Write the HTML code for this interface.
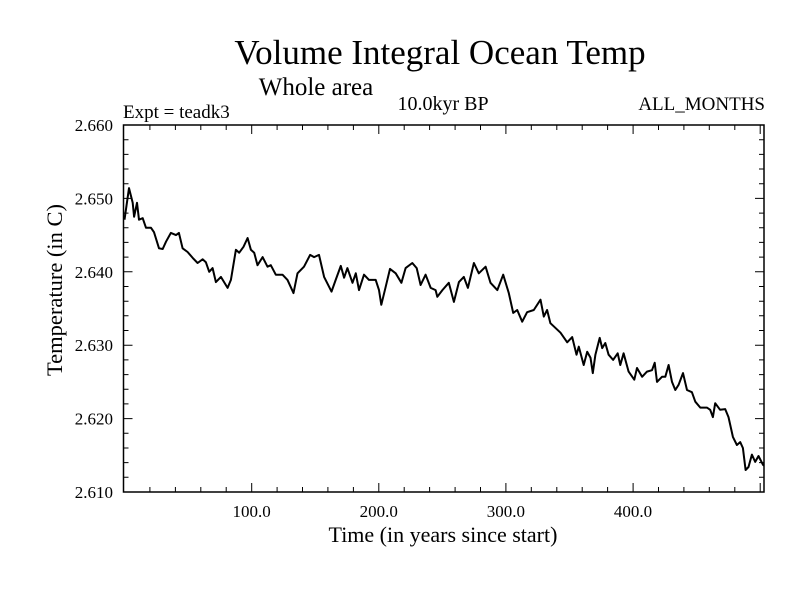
<!DOCTYPE html>
<html><head><meta charset="utf-8"><style>
html,body{margin:0;padding:0;background:#fff;}
svg{display:block;font-family:"Liberation Serif",serif;}
</style></head><body>
<svg id="chart" width="800" height="600" viewBox="0 0 800 600">
<rect width="800" height="600" fill="#fff"/>
<text x="440" y="64" font-size="35" text-anchor="middle">Volume Integral Ocean Temp</text>
<text x="316" y="95" font-size="25" text-anchor="middle">Whole area</text>
<text x="123" y="118" font-size="19">Expt = teadk3</text>
<text x="443" y="110" font-size="20" text-anchor="middle">10.0kyr BP</text>
<text x="765" y="110" font-size="19" text-anchor="end">ALL_MONTHS</text>
<text x="443" y="542" font-size="22" text-anchor="middle">Time (in years since start)</text>
<text transform="translate(62,290) rotate(-90)" font-size="22.5" text-anchor="middle">Temperature (in C)</text>
<g id="axes"></g>
<g id="series"></g>
</svg>
<script>
const years=[0,3.5,6.4,7.5,9.8,11.4,14.3,16.9,20.8,23.2,27.1,30.0,32.6,36.5,40.5,42.8,45.7,49.6,53.6,57.5,61.4,64.0,66.6,69.3,71.9,75.8,81.1,83.7,87.6,90.2,93.6,96.8,99.4,102.0,104.6,108.6,112.5,115.1,119.0,124.3,128.2,132.9,136.1,141.2,146.0,149.1,153.0,157.0,162.8,166.1,170.1,172.7,175.3,179.3,181.9,184.4,188.4,192.3,197.6,200.2,202.0,205.4,208.8,213.3,217.8,221.1,226.4,229.8,232.9,236.8,240.8,244.7,246.0,250.0,255.1,259.1,263.0,266.9,270.1,274.8,278.7,284.0,287.9,293.2,297.9,302.3,305.7,308.9,312.8,316.7,321.9,327.2,329.8,332.4,335.0,342.9,348.2,352.1,355.5,357.3,361.2,363.9,366.5,368.3,370.4,373.8,375.7,378.2,380.8,384.3,387.9,390.0,392.6,396.5,401.0,403.1,407.1,411.0,414.9,417.0,418.8,422.8,425.4,428.0,430.6,433.2,435.8,439.3,442.4,446.3,449.0,452.9,458.1,460.7,462.8,464.6,468.5,472.5,475.1,478.5,481.7,484.3,486.4,488.5,490.8,493.5,496.1,498.7,502.2,503];
const temps=[2.6471,2.6514,2.6494,2.6475,2.6494,2.6471,2.6473,2.6460,2.6460,2.6454,2.6432,2.6431,2.6441,2.6453,2.6450,2.6453,2.6432,2.6427,2.6419,2.6412,2.6417,2.6413,2.6400,2.6405,2.6386,2.6393,2.6378,2.6389,2.6430,2.6426,2.6434,2.6446,2.6430,2.6426,2.6409,2.6420,2.6407,2.6409,2.6396,2.6396,2.6389,2.6371,2.6398,2.6407,2.6423,2.6420,2.6423,2.6393,2.6373,2.6389,2.6408,2.6392,2.6405,2.6385,2.6398,2.6375,2.6396,2.6389,2.6389,2.6375,2.6355,2.6379,2.6404,2.6398,2.6385,2.6405,2.6412,2.6405,2.6382,2.6396,2.6378,2.6375,2.6366,2.6375,2.6385,2.6359,2.6386,2.6393,2.6378,2.6412,2.6398,2.6407,2.6385,2.6375,2.6396,2.6371,2.6344,2.6348,2.6332,2.6345,2.6348,2.6362,2.6339,2.6348,2.6330,2.6317,2.6304,2.6311,2.6287,2.6298,2.6273,2.6291,2.6283,2.6262,2.6287,2.6310,2.6296,2.6303,2.6287,2.6280,2.6289,2.6273,2.6289,2.6264,2.6253,2.6269,2.6257,2.6264,2.6266,2.6276,2.6250,2.6257,2.6257,2.6273,2.6250,2.6239,2.6246,2.6262,2.6239,2.6236,2.6223,2.6215,2.6215,2.6212,2.6202,2.6221,2.6212,2.6213,2.6202,2.6175,2.6164,2.6168,2.6160,2.6130,2.6134,2.6151,2.6141,2.6149,2.6137,2.6136];
const xTickValues=[100,200,300,400];
const xTickLabels=["100.0","200.0","300.0","400.0"];
const yTickValues=[2.610,2.620,2.630,2.640,2.650,2.660];
const yTickLabels=["2.610","2.620","2.630","2.640","2.650","2.660"];

const L=123.5,R=764,T=125,B=492,X0=-0.8,X1=503,Y0=2.610,Y1=2.660;
const xs=v=>L+(v-X0)/(X1-X0)*(R-L);
const ys=v=>B-(v-Y0)/(Y1-Y0)*(B-T);
const NS="http://www.w3.org/2000/svg";
const axes=document.getElementById('axes');
function mk(tag,attrs,parent){const e=document.createElementNS(NS,tag);for(const k in attrs)e.setAttribute(k,attrs[k]);parent.appendChild(e);return e;}

const frame=mk('rect',{x:L,y:T,width:R-L,height:B-T,fill:'none',stroke:'#000','stroke-width':1.5},axes);



let p='';
for(let v=20;v<X1;v+=20){const x=xs(v).toFixed(1);const len=(v%100===0)?9:5;p+=`M${x} ${B}V${B-len}M${x} ${T}V${T+len}`;}
for(let i=0;i<=25;i++){const v=Y0+i*0.002;const y=ys(v).toFixed(1);const len=(i%5===0)?9:5;p+=`M${L} ${y}H${L+len}M${R} ${y}H${R-len}`;}
const ticks=mk('path',{d:p,stroke:'#000','stroke-width':1,fill:'none'},axes);



xTickValues.forEach((v,i)=>{const t=mk('text',{x:xs(v),y:517,'font-size':17,'text-anchor':'middle'},axes);t.textContent=xTickLabels[i];

});
yTickValues.forEach((v,i)=>{const t=mk('text',{x:113,y:ys(v)+6,'font-size':17,'text-anchor':'end'},axes);t.textContent=yTickLabels[i];

});

const series=document.getElementById('series');
const d=years.map((v,i)=>(i?'L':'M')+xs(v).toFixed(1)+' '+ys(temps[i]).toFixed(1)).join('');
const line=mk('path',{d:d,stroke:'#000','stroke-width':2,fill:'none','stroke-linejoin':'round'},series);


</script>
</body></html>
